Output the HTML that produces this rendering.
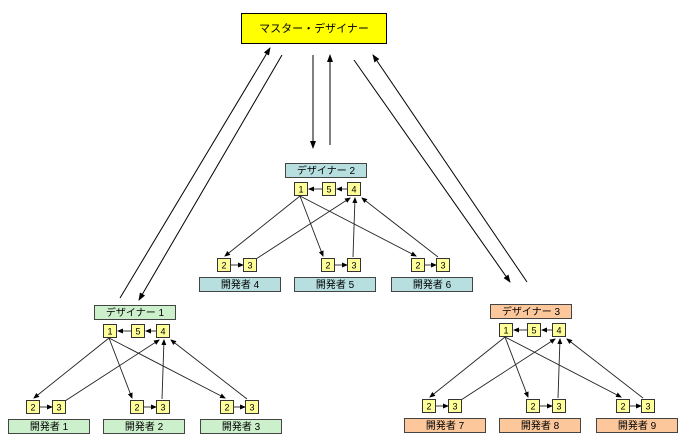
<!DOCTYPE html>
<html><head><meta charset="utf-8"><style>
html,body{margin:0;padding:0;background:#fff;}
svg{display:block;}
text{font-family:"Liberation Sans","Noto Sans CJK JP",sans-serif;}
</style></head><body>
<svg width="690" height="442" viewBox="0 0 690 442" xmlns="http://www.w3.org/2000/svg">
<defs>
<marker id="a" markerWidth="8" markerHeight="8" refX="7" refY="4" orient="auto" markerUnits="userSpaceOnUse"><path d="M0,1 L8,4 L0,7 z" fill="#000"/></marker>
<marker id="s" markerWidth="6" markerHeight="6" refX="5" refY="3" orient="auto" markerUnits="userSpaceOnUse"><path d="M0,0.5 L6,3 L0,5.5 z" fill="#000"/></marker>
<g id="grp">
<g stroke="#222" stroke-width="0.9" fill="none">
<line x1="300" y1="196" x2="225" y2="256" marker-end="url(#s)"/>
<line x1="300" y1="196" x2="323" y2="256" marker-end="url(#s)"/>
<line x1="300" y1="196" x2="416" y2="256" marker-end="url(#s)"/>
<line x1="256" y1="259" x2="350" y2="198" marker-end="url(#s)"/>
<line x1="353" y1="257" x2="355" y2="198" marker-end="url(#s)"/>
<line x1="438" y1="257" x2="362" y2="198" marker-end="url(#s)"/>
<line x1="348" y1="189" x2="337" y2="189" marker-end="url(#s)"/>
<line x1="322" y1="189" x2="309" y2="189" marker-end="url(#s)"/>
<line x1="231" y1="265" x2="243" y2="265" marker-end="url(#s)"/>
<line x1="335" y1="265" x2="347" y2="265" marker-end="url(#s)"/>
<line x1="425" y1="265" x2="436" y2="265" marker-end="url(#s)"/>
</g>
<g fill="#ffff99" stroke="#333" stroke-width="1">
<rect x="294.5" y="182.5" width="13" height="13"/>
<rect x="322.5" y="182.5" width="13" height="13"/>
<rect x="347.5" y="182.5" width="13" height="13"/>
<rect x="217.5" y="258.5" width="13" height="13"/>
<rect x="243.5" y="258.5" width="13" height="13"/>
<rect x="321.5" y="258.5" width="13" height="13"/>
<rect x="347.5" y="258.5" width="13" height="13"/>
<rect x="411.5" y="258.5" width="13" height="13"/>
<rect x="436.5" y="258.5" width="13" height="13"/>
</g>
<g font-size="9" text-anchor="middle" fill="#000">
<text x="301" y="192.5">1</text><text x="329" y="192.5">5</text><text x="354" y="192.5">4</text>
<text x="224" y="268.5">2</text><text x="250" y="268.5">3</text>
<text x="328" y="268.5">2</text><text x="354" y="268.5">3</text>
<text x="418" y="268.5">2</text><text x="443" y="268.5">3</text>
</g>
</g>
</defs>

<rect x="241.5" y="13.5" width="145" height="30" fill="#ffff00" stroke="#000" stroke-width="1"/>
<text x="314" y="32" font-size="11" text-anchor="middle">マスター・デザイナー</text>

<g stroke="#000" stroke-width="1" fill="none">
<line x1="282" y1="55" x2="139" y2="300" marker-end="url(#a)"/>
<line x1="120" y1="298" x2="270" y2="48" marker-end="url(#a)"/>
<line x1="313" y1="55" x2="313" y2="148" marker-end="url(#a)"/>
<line x1="330" y1="145" x2="330" y2="55" marker-end="url(#a)"/>
<line x1="354" y1="60" x2="510" y2="282" marker-end="url(#a)"/>
<line x1="527" y1="282" x2="373" y2="55" marker-end="url(#a)"/>
</g>

<!-- group 2 -->
<use href="#grp"/>
<g stroke="#444" stroke-width="1" fill="#b7dfe0">
<rect x="285.5" y="163.5" width="81" height="14"/>
<rect x="199.5" y="277.5" width="81" height="14"/>
<rect x="294.5" y="277.5" width="81" height="14"/>
<rect x="391.5" y="277.5" width="81" height="14"/>
</g>
<g font-size="10" text-anchor="middle">
<text x="326" y="174">デザイナー 2</text>
<text x="240" y="288">開発者 4</text>
<text x="335" y="288">開発者 5</text>
<text x="432" y="288">開発者 6</text>
</g>

<!-- group 1 -->
<use href="#grp" transform="translate(-191,142)"/>
<g stroke="#444" stroke-width="1" fill="#ccf0cc">
<rect x="94.5" y="305.5" width="81" height="14"/>
<rect x="8.5" y="419.5" width="81" height="14"/>
<rect x="103.5" y="419.5" width="81" height="14"/>
<rect x="200.5" y="419.5" width="81" height="14"/>
</g>
<g font-size="10" text-anchor="middle">
<text x="135" y="316">デザイナー 1</text>
<text x="49" y="430">開発者 1</text>
<text x="144" y="430">開発者 2</text>
<text x="241" y="430">開発者 3</text>
</g>

<!-- group 3 -->
<use href="#grp" transform="translate(205,141)"/>
<g stroke="#444" stroke-width="1" fill="#fcc79a">
<rect x="490.5" y="304.5" width="81" height="14"/>
<rect x="404.5" y="418.5" width="81" height="14"/>
<rect x="499.5" y="418.5" width="81" height="14"/>
<rect x="596.5" y="418.5" width="81" height="14"/>
</g>
<g font-size="10" text-anchor="middle">
<text x="531" y="315">デザイナー 3</text>
<text x="445" y="429">開発者 7</text>
<text x="540" y="429">開発者 8</text>
<text x="637" y="429">開発者 9</text>
</g>
</svg>
</body></html>
